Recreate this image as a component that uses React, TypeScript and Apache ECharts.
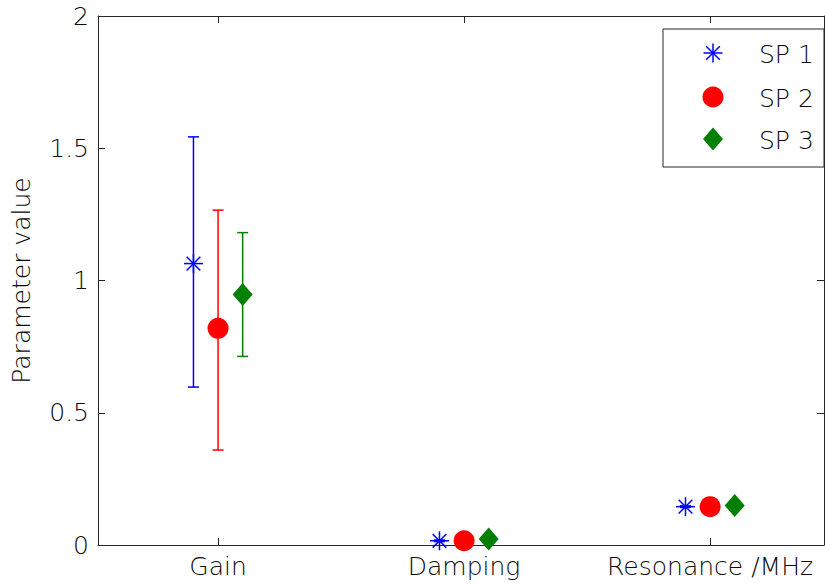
import React, { useEffect, useRef } from 'react';
import * as echarts from 'echarts';

const categories = ['Gain', 'Damping', 'Resonance /MHz'];
const categoryPositions = [1, 2, 3];
const seriesNames = ['SP 1', 'SP 2', 'SP 3'];
const seriesOffsets = [-0.1, 0, 0.1];
const seriesColors = ['#0000ff', '#ff0000', '#008000'];
const seriesMarkers = ['star', 'circle', 'diamond'];

const sp1Values = [1.064, 0.016, 0.145];
const sp1Low = [0.597, 0.013, 0.142];
const sp1High = [1.543, 0.019, 0.148];

const sp2Values = [0.819, 0.016, 0.145];
const sp2Low = [0.359, 0.013, 0.142];
const sp2High = [1.266, 0.019, 0.148];

const sp3Values = [0.947, 0.023, 0.149];
const sp3Low = [0.713, 0.02, 0.146];
const sp3High = [1.181, 0.026, 0.152];

const yTicks = [0, 0.5, 1, 1.5, 2];

const FONT = 'DejaVu Sans';
const WEIGHT = 300;
const TEXT = '#0a0a0a';
const AXIS = '#262626';

function markerElements(marker: string, cx: number, cy: number, color: string, z?: number): any[] {
  const zz = z === undefined ? {} : { z };
  if (marker === 'star') {
    const r = 9.5;
    const d = r * 0.72;
    const st = { stroke: color, lineWidth: 1.5 };
    return [
      { type: 'line', ...zz, shape: { x1: cx - r, y1: cy, x2: cx + r, y2: cy }, style: st },
      { type: 'line', ...zz, shape: { x1: cx, y1: cy - r, x2: cx, y2: cy + r }, style: st },
      { type: 'line', ...zz, shape: { x1: cx - d, y1: cy - d, x2: cx + d, y2: cy + d }, style: st },
      { type: 'line', ...zz, shape: { x1: cx - d, y1: cy + d, x2: cx + d, y2: cy - d }, style: st },
    ];
  }
  if (marker === 'circle') {
    return [{ type: 'circle', ...zz, shape: { cx, cy, r: 10.5 }, style: { fill: color } }];
  }
  return [
    {
      type: 'polygon',
      ...zz,
      shape: { points: [[cx, cy - 11.5], [cx + 10, cy], [cx, cy + 11.5], [cx - 10, cy]] },
      style: { fill: color },
    },
  ];
}

function makeRenderItem(marker: string, color: string) {
  return (params: any, api: any) => {
    const x = api.value(0);
    const v = api.value(1);
    const lo = api.value(2);
    const hi = api.value(3);
    const pc = api.coord([x, v]);
    const pl = api.coord([x, lo]);
    const ph = api.coord([x, hi]);
    const cap = 5.5;
    const st = { stroke: color, lineWidth: 1.5 };
    return {
      type: 'group',
      children: [
        { type: 'line', shape: { x1: pc[0], y1: ph[1], x2: pc[0], y2: pl[1] }, style: st },
        { type: 'line', shape: { x1: pc[0] - cap, y1: ph[1], x2: pc[0] + cap, y2: ph[1] }, style: st },
        { type: 'line', shape: { x1: pc[0] - cap, y1: pl[1], x2: pc[0] + cap, y2: pl[1] }, style: st },
        ...markerElements(marker, pc[0], pc[1], color),
      ],
    };
  };
}

function legendGraphic(): any[] {
  const els: any[] = [
    {
      type: 'rect',
      shape: { x: 663, y: 29, width: 161, height: 138 },
      style: { fill: '#ffffff', stroke: AXIS, lineWidth: 1 },
      z: 100,
    },
  ];
  const rows = [53, 97, 139];
  seriesNames.forEach((name, i) => {
    markerElements(seriesMarkers[i], 713, rows[i], seriesColors[i], 101).forEach((el) => els.push(el));
    els.push({
      type: 'text',
      x: 759,
      y: rows[i] + 1,
      z: 101,
      style: {
        text: name,
        fontFamily: FONT,
        fontSize: 25,
        fontWeight: WEIGHT,
        fill: TEXT,
        verticalAlign: 'middle',
        align: 'left',
      },
    });
  });
  return els;
}

export default function App() {
  const ref = useRef<HTMLDivElement>(null);
  useEffect(() => {
    if (!ref.current) return;
    const chart = echarts.init(ref.current, undefined, { renderer: 'svg' });
    const allValues = [sp1Values, sp2Values, sp3Values];
    const allLow = [sp1Low, sp2Low, sp3Low];
    const allHigh = [sp1High, sp2High, sp3High];
    const series = seriesNames.map((name, si) => ({
      name,
      type: 'custom',
      renderItem: makeRenderItem(seriesMarkers[si], seriesColors[si]),
      encode: { x: 0, y: [1, 2, 3] },
      data: categoryPositions.map((p, ci) => [
        p + seriesOffsets[si],
        allValues[si][ci],
        allLow[si][ci],
        allHigh[si][ci],
      ]),
      xAxisIndex: 0,
      yAxisIndex: 0,
      clip: false,
      z: 5,
    }));
    const xCommon = {
      type: 'value',
      min: 0.512,
      max: 3.463,
      splitLine: { show: false },
      axisLine: { show: true, onZero: false, lineStyle: { color: AXIS, width: 1 } },
    };
    const yCommon = {
      type: 'value',
      min: 0,
      max: 2,
      interval: 0.5,
      splitLine: { show: false },
      axisLine: { show: true, onZero: false, lineStyle: { color: AXIS, width: 1 } },
      axisTick: { show: true, inside: true, length: 7, lineStyle: { color: AXIS } },
    };
    const labelFont = { fontFamily: FONT, fontSize: 25, fontWeight: WEIGHT, color: TEXT };
    chart.setOption({
      animation: false,
      backgroundColor: '#ffffff',
      grid: { left: 98, right: 1, top: 16, bottom: 41, containLabel: false },
      xAxis: [
        {
          ...xCommon,
          position: 'bottom',
          axisTick: { show: true, inside: true, length: 7, customValues: categoryPositions, lineStyle: { color: AXIS } },
          axisLabel: {
            show: true,
            customValues: categoryPositions,
            formatter: (v: number) => categories[Math.round(v) - 1] ?? '',
            ...labelFont,
            margin: 9,
          },
        },
        {
          ...xCommon,
          position: 'top',
          axisTick: { show: true, inside: true, length: 7, customValues: categoryPositions, lineStyle: { color: AXIS } },
          axisLabel: { show: false },
        },
      ],
      yAxis: [
        {
          ...yCommon,
          position: 'left',
          axisLabel: {
            show: true,
            ...labelFont,
            margin: 9,
            customValues: yTicks,
          },
          name: 'Parameter value',
          nameLocation: 'middle',
          nameGap: 64,
          nameTextStyle: { ...labelFont },
        },
        {
          ...yCommon,
          position: 'right',
          axisLabel: { show: false },
        },
      ],
      series,
      graphic: legendGraphic(),
    } as any);
    return () => chart.dispose();
  }, []);
  return (
    <div
      ref={ref}
      style={{ position: 'fixed', left: 0, top: 0, width: 825, height: 586, background: '#fff' }}
    />
  );
}
